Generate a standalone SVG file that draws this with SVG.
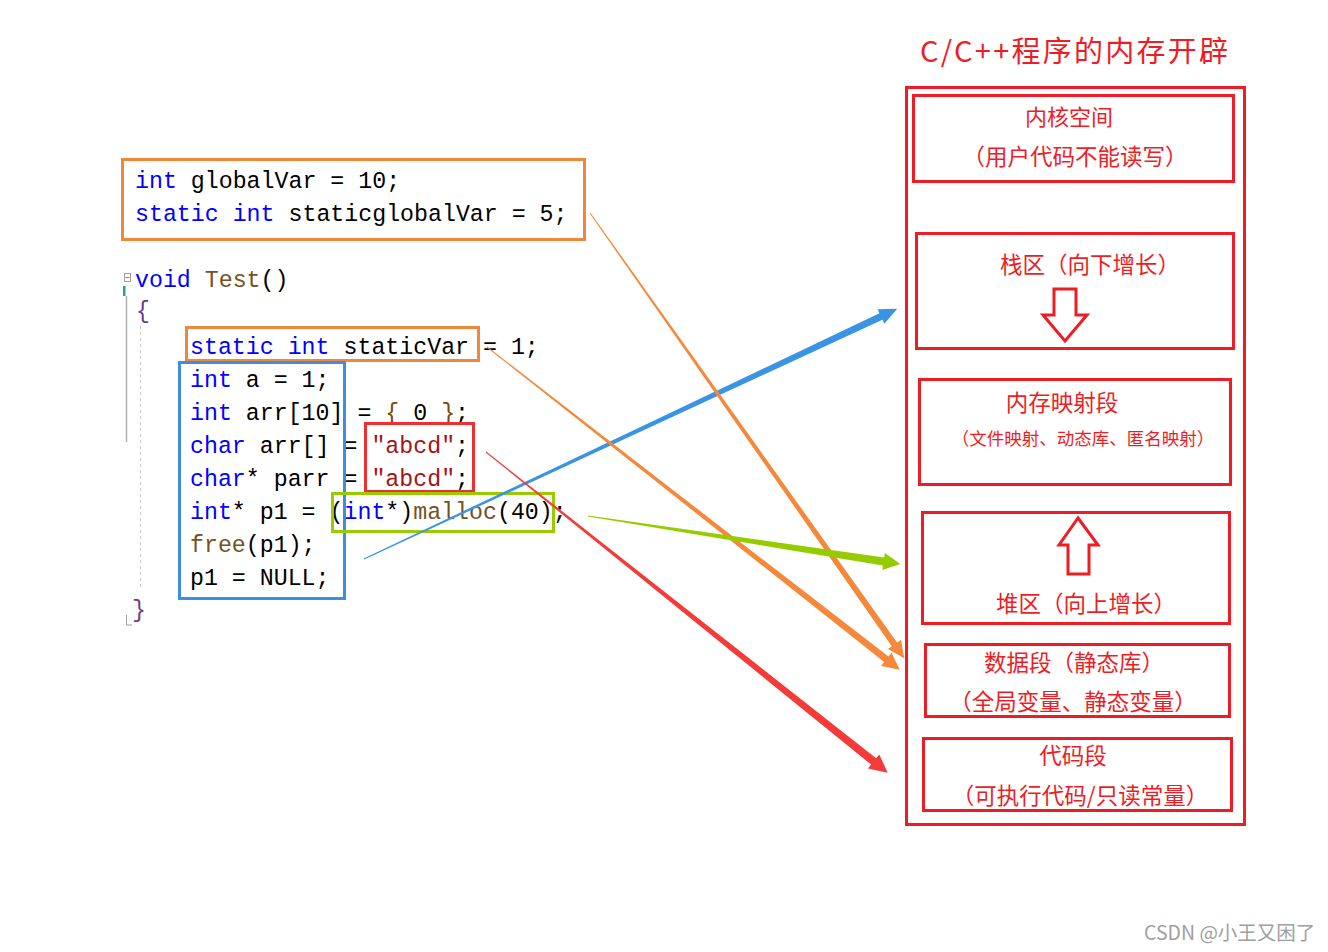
<svg xmlns="http://www.w3.org/2000/svg" width="1328" height="952" viewBox="0 0 1328 952">
<style>
.code{font-family:"Liberation Mono","DejaVu Sans Mono",monospace;font-size:23.25px;fill:#000}
.kw{fill:#0000ff}
.fn{fill:#74531f}
.str{fill:#a31515}
.br{fill:#7a4a10}
.cn{font-family:"Noto Sans CJK SC","Microsoft YaHei",sans-serif;fill:#ee1c24;text-anchor:middle}
.seg{fill:none;stroke:#ee1c24;stroke-width:3}
.ob{fill:none;stroke:#f0883a;stroke-width:3}
</style>
<rect width="1328" height="952" fill="#ffffff"/>

<!-- editor gutter -->
<g id="gutter">
<rect x="124.5" y="273.5" width="6" height="8" fill="#fff" stroke="#a0a0a0" stroke-width="1"/>
<line x1="125.5" y1="277.5" x2="129.5" y2="277.5" stroke="#808080" stroke-width="1"/>
<rect x="123" y="286" width="2.5" height="10" fill="#1fa58f"/>
<line x1="126.5" y1="296" x2="126.5" y2="442" stroke="#b0b0b0" stroke-width="1.5"/>
<line x1="140.5" y1="326" x2="140.5" y2="588" stroke="#c8c8c8" stroke-width="1" stroke-dasharray="3,3"/>
<polyline points="126.5,615 126.5,625 132,625" fill="none" stroke="#a0a0a0" stroke-width="1"/>
</g>

<!-- code -->
<g id="code">
<text class="code" x="135" y="188"><tspan class="kw">int</tspan> globalVar = 10;</text>
<text class="code" x="135" y="221"><tspan class="kw">static</tspan> <tspan class="kw">int</tspan> staticglobalVar = 5;</text>
<text class="code" x="135" y="287"><tspan class="kw">void</tspan> <tspan class="fn">Test</tspan>()</text>
<text class="code" x="136" y="318"><tspan fill="#6f3a8a">{</tspan></text>
<text class="code" x="190" y="354"><tspan class="kw">static</tspan> <tspan class="kw">int</tspan> staticVar = 1;</text>
<text class="code" x="190" y="387"><tspan class="kw">int</tspan> a = 1;</text>
<text class="code" x="190" y="420"><tspan class="kw">int</tspan> arr[10] = <tspan class="br">{</tspan> 0 <tspan class="br">}</tspan>;</text>
<text class="code" x="190" y="453"><tspan class="kw">char</tspan> arr[] = <tspan class="str">"abcd"</tspan>;</text>
<text class="code" x="190" y="486"><tspan class="kw">char</tspan>* parr = <tspan class="str">"abcd"</tspan>;</text>
<text class="code" x="190" y="519"><tspan class="kw">int</tspan>* p1 = (<tspan class="kw">int</tspan>*)<tspan class="fn">malloc</tspan>(40);</text>
<text class="code" x="190" y="552"><tspan class="fn">free</tspan>(p1);</text>
<text class="code" x="190" y="585">p1 = NULL;</text>
<text class="code" x="132" y="617"><tspan fill="#6f3a8a">}</tspan></text>
</g>

<!-- highlight boxes -->
<g id="boxes">
<rect id="box-globals" class="ob" x="122.5" y="159.5" width="462" height="80"/>
<rect id="box-staticvar" class="ob" x="186.5" y="327.5" width="292" height="33"/>
<rect id="box-locals" x="179.5" y="362.5" width="165" height="236" fill="none" stroke="#3d8ee0" stroke-width="3"/>
<rect id="box-strings" x="365.5" y="423.5" width="108" height="68" fill="none" stroke="#f03030" stroke-width="3"/>
<rect id="box-malloc" x="332.5" y="493.5" width="221" height="38" fill="none" stroke="#99cc00" stroke-width="3"/>
</g>

<!-- memory layout -->
<text id="title" x="920" y="62" font-family="Noto Sans CJK SC, Microsoft YaHei, sans-serif" font-size="29" fill="#ee1c24" textLength="308" lengthAdjust="spacing">C/C++程序的内存开辟</text>
<rect id="memory" class="seg" x="906.5" y="87.5" width="338" height="737"/>

<g id="kernel">
<rect class="seg" x="913.5" y="95.5" width="320" height="86"/>
<text class="cn" x="1069" y="125" font-size="22">内核空间</text>
<text class="cn" x="1075" y="165" font-size="22.5">（用户代码不能读写）</text>
</g>

<g id="stack">
<rect class="seg" x="916.5" y="233.5" width="317" height="115"/>
<text class="cn" x="1090" y="273" font-size="22.5">栈区（向下增长）</text>
<polygon points="1054,289 1076,289 1076,315 1087,315 1065,341 1043,315 1054,315" fill="#fff" stroke="#ee1c24" stroke-width="3" stroke-linejoin="miter"/>
</g>

<g id="mmap">
<rect class="seg" x="919.5" y="379.5" width="311" height="105"/>
<text class="cn" x="1062" y="411" font-size="22.5">内存映射段</text>
<text class="cn" x="1083" y="445" font-size="17.5">（文件映射、动态库、匿名映射）</text>
</g>

<g id="heap">
<rect class="seg" x="922.5" y="512.5" width="307" height="111"/>
<polygon points="1078,518 1098,545 1089,545 1089,574 1068,574 1068,545 1059,545" fill="#fff" stroke="#ee1c24" stroke-width="3"/>
<text class="cn" x="1086" y="612" font-size="22.5">堆区（向上增长）</text>
</g>

<g id="data">
<rect class="seg" x="925.5" y="644.5" width="304" height="72"/>
<text class="cn" x="1074" y="671" font-size="22.5">数据段（静态库）</text>
<text class="cn" x="1073" y="710" font-size="22.5">（全局变量、静态变量）</text>
</g>

<g id="text-seg">
<rect class="seg" x="923.5" y="738.5" width="308" height="72"/>
<text class="cn" x="1073" y="764" font-size="22.5">代码段</text>
<text class="cn" x="1080" y="804" font-size="22.5">（可执行代码/只读常量）</text>
</g>

<!-- connectors: tapered arrows -->
<g id="connectors">
<path fill="#3a94e3" transform="translate(364,559) rotate(-25.13)" d="M0,-0.6 L571,-3.5 L571,-8 L589,0 L571,8 L571,3.5 L0,0.6 Z"/>
<path fill="#f5883a" transform="translate(590,213) rotate(54.79)" d="M0,-0.5 L528,-3.2 L528,-8 L545,0 L528,8 L528,3.2 L0,0.5 Z"/>
<path fill="#f5883a" transform="translate(487,347) rotate(38.03)" d="M0,-0.5 L507,-3.5 L507,-8.5 L524,0 L507,8.5 L507,3.5 L0,0.5 Z"/>
<path fill="#94cc00" transform="translate(588,516) rotate(8.75)" d="M0,-0.6 L299,-4 L299,-8.5 L316,0 L299,8.5 L299,4 L0,0.6 Z"/>
<path fill="#f53a3a" transform="translate(486,452) rotate(38.6)" d="M0,-0.5 L496,-4 L496,-9 L514,0 L496,9 L496,4 L0,0.5 Z"/>
</g>

<text id="watermark" x="1144" y="940" font-family="Noto Sans CJK SC, Liberation Sans, sans-serif" font-size="19.5" fill="#a0a0a0">CSDN @小王又困了</text>
</svg>
